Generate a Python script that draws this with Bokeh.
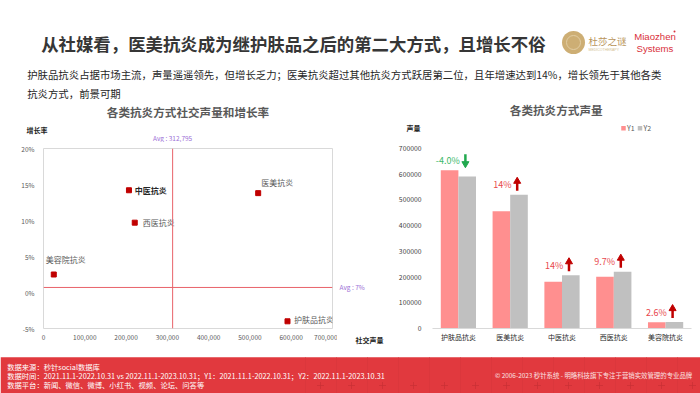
from bokeh.plotting import figure
from bokeh.models import (Range1d, FactorRange, ColumnDataSource, Span,
                          FixedTicker, NumeralTickFormatter, PrintfTickFormatter)
from bokeh.layouts import column, row
from bokeh.transform import dodge
from bokeh.core.properties import value
from bokeh.embed import file_html
from bokeh.resources import INLINE

CJK = "Noto Sans CJK SC"

# ---------------- data ----------------
title_text = "从社媒看，医美抗炎成为继护肤品之后的第二大方式，且增长不俗"
subtitle_lines = [
    "护肤品抗炎占据市场主流，声量遥遥领先，但增长乏力；医美抗炎超过其他抗炎方式跃居第二位，且年增速达到14%，增长领先于其他各类",
    "抗炎方式，前景可期",
]
scatter_title = "各类抗炎方式社交声量和增长率"
bar_title = "各类抗炎方式声量"
categories = ["护肤品抗炎", "医美抗炎", "中医抗炎", "西医抗炎", "美容院抗炎"]
volume_y1 = [615600, 456000, 181500, 201500, 24300]
volume_y2 = [591000, 520000, 207000, 221000, 24900]
growth_rate = [-4.0, 13.8, 14.2, 9.7, 2.5]
growth_labels = ["-4.0%", "14%", "14%", "9.7%", "2.6%"]
avg_volume = 312795
avg_volume_label = "Avg : 312,795"
avg_growth_line = 0.7
avg_growth_label = "Avg : 7%"
scatter_ticks_x = [0, 100000, 200000, 300000, 400000, 500000, 600000, 700000]
scatter_ticks_y = [-5, 0, 5, 10, 15, 20]
bar_ticks_y = [0, 100000, 200000, 300000, 400000, 500000, 600000, 700000]
x_axis_title = "社交声量"
y_axis_title_left = "增长率"
y_axis_title_right = "声量"
footer_lines = [
    "数据来源：秒针social数据库",
    "数据时间：2021.11.1-2022.10.31 vs 2022.11.1-2023.10.31；Y1：2021.11.1-2022.10.31；Y2：2022.11.1-2023.10.31",
    "数据平台：新闻、微信、微博、小红书、视频、论坛、问答等",
]
footer_right = "© 2006-2023 秒针系统 - 明略科技旗下专注于营销实效管理的专业品牌"

GRAY_T = "#595959"
PURPLE = "#9b6fd6"
Y1_COL = "#ff8f8f"
Y2_COL = "#c0c0c0"

# layout geometry (pixels)
W, H = 700, 393
HEAD_H, CHART_H = 142, 210
FOOT_H = H - HEAD_H - CHART_H
L_W, MID_W = 337, 58
R_W = W - L_W - MID_W
L_FRAME_LEFT, L_FRAME_W = 43, 289
FRAME_TOP, FRAME_H = 6, 180
FRAME_BOTTOM = CHART_H - FRAME_TOP - FRAME_H


def canvas_fig(w, h):
    p = figure(width=w, height=h, frame_width=w, frame_height=h,
               x_range=Range1d(0, w), y_range=Range1d(h, 0),
               output_backend="svg", toolbar_location=None, min_border=0,
               x_axis_location=None, y_axis_location=None, title=None)
    p.grid.visible = False
    p.outline_line_color = None
    p.background_fill_color = "white"
    p.border_fill_color = "white"
    return p


def txt(p, x, y, text, size, color, bold=False, align="left", font=CJK):
    p.text(x=[x], y=[y], text=[text], text_font=value(font), text_font_size=size,
           text_color=color, text_font_style="bold" if bold else "normal",
           text_align=align, text_baseline="middle")


# ---------------- header (incl. chart titles) ----------------
hp = canvas_fig(W, HEAD_H)
txt(hp, 40.7, 42.7, title_text, "17.4px", "#363636", bold=True)
txt(hp, 26.7, 74, subtitle_lines[0], "10.4px", "#262626")
txt(hp, 26.7, 92.7, subtitle_lines[1], "10.4px", "#262626")
# logos
hp.scatter(x=[573], y=[42], size=23, marker="circle", fill_color="#cdae74", line_color=None)
hp.scatter(x=[573], y=[42], size=14, marker="circle", fill_color=None,
           line_color="#e2cda3", line_width=1)
txt(hp, 588, 40.7, "杜莎之谜", "9.5px", "#b9955b")
txt(hp, 588, 49, "MEDICOTHERAPY", "3.5px", "#d4bf95", font="Liberation Sans")
txt(hp, 633.7, 36, "Miaozhen", "9.6px", "#d9303b", font="Liberation Sans")
txt(hp, 636, 48.3, "Systems", "9.6px", "#d9303b", font="Liberation Sans")
hp.scatter(x=[674], y=[31], size=2, marker="circle", fill_color="#d9303b", line_color=None)
# left chart header texts
txt(hp, L_FRAME_LEFT + L_FRAME_W / 2, 111, scatter_title, "11.6px", GRAY_T, bold=True, align="center")
txt(hp, 26, 129.7, y_axis_title_left, "7px", "#262626", bold=True)
avg_x_px = L_FRAME_LEFT + avg_volume / 700000 * L_FRAME_W
txt(hp, avg_x_px, 137.7, avg_volume_label, "6.5px", PURPLE, align="center")
# right chart header texts
txt(hp, 555.7, 109, bar_title, "11.6px", GRAY_T, bold=True, align="center")
txt(hp, 406, 127.7, y_axis_title_right, "7px", "#262626", bold=True)
hp.scatter(x=[623, 639.5], y=[127.7, 127.7], marker="square", size=4.5,
           fill_color=[Y1_COL, Y2_COL], line_color=None)
txt(hp, 626.5, 127.7, "Y1", "7px", GRAY_T)
txt(hp, 643, 127.7, "Y2", "7px", GRAY_T)

# ---------------- left: scatter ----------------
lp = figure(width=L_W, height=CHART_H, x_range=Range1d(0, 700000), y_range=Range1d(-5, 20),
            output_backend="svg", toolbar_location=None, title=None,
            min_border_left=L_FRAME_LEFT, min_border_right=L_W - L_FRAME_LEFT - L_FRAME_W,
            min_border_top=FRAME_TOP, min_border_bottom=FRAME_BOTTOM)
lp.grid.visible = False
lp.outline_line_color = "#d9d9d9"
lp.xaxis.ticker = FixedTicker(ticks=scatter_ticks_x)
lp.xaxis.formatter = NumeralTickFormatter(format="0,0")
lp.yaxis.ticker = FixedTicker(ticks=scatter_ticks_y)
lp.yaxis.formatter = PrintfTickFormatter(format="%d%%")
for ax in (lp.xaxis, lp.yaxis):
    ax.axis_line_color = None
    ax.major_tick_line_color = None
    ax.minor_tick_line_color = None
    ax.major_label_text_font_size = "6.5px"
    ax.major_label_text_color = GRAY_T
    ax.major_label_text_font = CJK
lp.xaxis.major_label_standoff = 0
lp.yaxis.major_label_standoff = 3

lp.add_layout(Span(location=avg_volume, dimension="height", line_color="#e8636a", line_width=1))
lp.add_layout(Span(location=avg_growth_line, dimension="width", line_color="#e8636a", line_width=1))

sc_src = ColumnDataSource(dict(
    x=volume_y2, y=growth_rate, name=categories,
    dx=[6.6, 3, 5.7, 8, -8], dy=[-2.3, -10.4, 0, 0, -15],
    fs=["normal", "normal", "bold", "normal", "normal"],
    tc=["#595959", "#595959", "#262626", "#595959", "#595959"],
))
lp.scatter("x", "y", source=sc_src, marker="square", size=5, fill_color="#c00000",
           line_color="#c00000")
lp.text("x", "y", text="name", source=sc_src, x_offset="dx", y_offset="dy",
        text_font=value(CJK), text_font_size="8px", text_font_style="fs",
        text_color="tc", text_baseline="middle", text_align="left")

# ---------------- middle strip (labels right of scatter frame), same frame as scatter ----
mp = figure(width=MID_W, height=CHART_H, x_range=Range1d(0, MID_W), y_range=lp.y_range,
            output_backend="svg", toolbar_location=None, title=None,
            min_border_left=0, min_border_right=0,
            min_border_top=FRAME_TOP, min_border_bottom=FRAME_BOTTOM,
            y_axis_location=None)
mp.grid.visible = False
mp.outline_line_color = None
mp.xaxis.ticker = FixedTicker(ticks=[32])
mp.xaxis.major_label_overrides = {32: x_axis_title}
mp.xaxis.axis_line_color = None
mp.xaxis.major_tick_line_color = None
mp.xaxis.minor_tick_line_color = None
mp.xaxis.major_label_text_font = CJK
mp.xaxis.major_label_text_font_size = "7px"
mp.xaxis.major_label_text_font_style = "bold"
mp.xaxis.major_label_text_color = "#262626"
mp.xaxis.major_label_standoff = 0
mp.text(x=[2], y=[avg_growth_line], text=[avg_growth_label], text_font=value(CJK),
        text_font_size="6.5px", text_color=PURPLE, text_align="left", text_baseline="middle")

# ---------------- right: bars ----------------
rp = figure(width=R_W, height=CHART_H, x_range=FactorRange(factors=categories),
            y_range=Range1d(0, 700000), output_backend="svg", toolbar_location=None, title=None,
            min_border_left=36, min_border_right=R_W - 36 - 260,
            min_border_top=FRAME_TOP, min_border_bottom=FRAME_BOTTOM)
rp.grid.visible = False
rp.outline_line_color = None
rp.yaxis.ticker = FixedTicker(ticks=bar_ticks_y)
rp.yaxis.formatter = NumeralTickFormatter(format="0")
rp.yaxis.axis_line_color = None
rp.xaxis.axis_line_color = "#d9d9d9"
for ax in (rp.xaxis, rp.yaxis):
    ax.major_tick_line_color = None
    ax.minor_tick_line_color = None
    ax.major_label_text_font = CJK
rp.yaxis.major_label_text_font_size = "6.8px"
rp.yaxis.major_label_text_color = "#404040"
rp.yaxis.major_label_standoff = 5
rp.xaxis.major_label_text_font_size = "7px"
rp.xaxis.major_label_text_color = "#262626"
rp.xaxis.major_label_standoff = -3

upp = 700000 / FRAME_H  # data units per pixel on the bar chart
tops = [max(a, b) for a, b in zip(volume_y1, volume_y2)]
label_y = [t + 10 * upp for t in tops]
up = [g >= 0 for g in growth_rate]
bar_src = ColumnDataSource(dict(
    cat=categories, y1=volume_y1, y2=volume_y2, glabel=growth_labels, ly=label_y,
    tcol=["#e8474c" if u else "#3cb96a" for u in up],
    acol=["#c00000" if u else "#22a94f" for u in up],
    s0=[ly - 6 * upp if u else ly + 6 * upp for ly, u in zip(label_y, up)],
    s1=[ly + 2 * upp if u else ly - 2 * upp for ly, u in zip(label_y, up)],
    hy=[ly + 3.5 * upp if u else ly - 3.5 * upp for ly, u in zip(label_y, up)],
    mk=["triangle" if u else "inverted_triangle" for u in up],
))
rp.vbar(x=dodge("cat", -0.17, range=rp.x_range), top="y1", width=0.34, source=bar_src,
        fill_color=Y1_COL, line_color=None)
rp.vbar(x=dodge("cat", 0.17, range=rp.x_range), top="y2", width=0.34, source=bar_src,
        fill_color=Y2_COL, line_color=None)
rp.text(x=dodge("cat", 0.025, range=rp.x_range), y="ly", text="glabel", source=bar_src,
        text_font=value(CJK), text_font_size="9px", text_color="tcol",
        text_align="right", text_baseline="middle")
rp.segment(x0=dodge("cat", 0.135, range=rp.x_range), y0="s0",
           x1=dodge("cat", 0.135, range=rp.x_range), y1="s1", source=bar_src,
           line_color="acol", line_width=2.5)
rp.scatter(x=dodge("cat", 0.135, range=rp.x_range), y="hy", marker="mk", source=bar_src,
           size=7, fill_color="acol", line_color="acol")

# ---------------- footer ----------------
fp = canvas_fig(W, FOOT_H)
fp.quad(left=[0], right=[W], top=[4.7], bottom=[FOOT_H], fill_color="#e1393e", line_color=None)
# faint grid pattern on the right part of the band
gx = list(range(305, 700, 31))
fp.segment(x0=gx, y0=[4.7] * len(gx), x1=gx, y1=[FOOT_H] * len(gx),
           line_color="#d6353b", line_width=0.6)
fp.scatter(x=[g + 15 for g in gx], y=[33] * len(gx), marker="cross", size=7,
           line_color="#c92f35", line_width=0.7)
fp.text(x=[6.7, 6.7, 6.7], y=[14, 23.3, 32], text=footer_lines, text_font=value(CJK),
        text_font_size="7.3px", text_color="white", text_baseline="middle", text_align="left")
fp.text(x=[691.7], y=[22.7], text=[footer_right], text_font=value(CJK),
        text_font_size="6.4px", text_color="#fbe3e3", text_baseline="middle", text_align="right")

layout = column(hp, row(lp, mp, rp), fp)
open("out.html", "w").write(file_html(layout, INLINE))
